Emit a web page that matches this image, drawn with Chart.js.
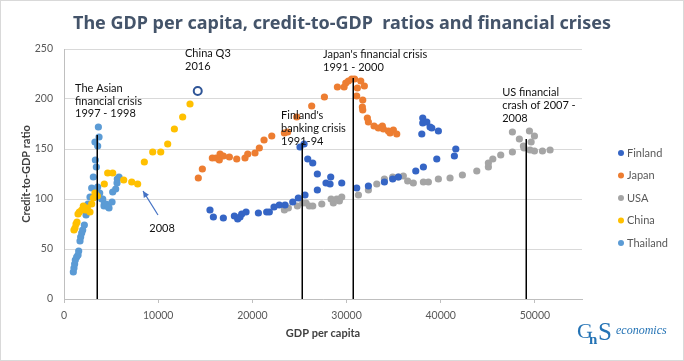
<!DOCTYPE html>
<html><head><meta charset="utf-8">
<script src="https://cdn.jsdelivr.net/npm/chart.js@4"></script>
<style>html,body{margin:0;padding:0;background:#fff}#wrap{width:684px;height:361px}</style>
</head><body><div id="wrap"><canvas id="c" width="684" height="361"></canvas></div>
<script>
// ---- data (GDP per capita, credit-to-GDP ratio) ----
const seriesNames = ["Finland","Japan","USA","China","Thailand"];
const finlandGDP = [15500,15860,16920,18090,18440,18690,18870,19330,20640,21520,21800,22300,22860,23470,24290,24880,25590,25060,25490,25880,26410,26900,26900,27820,28250,28320,29490,31080,32320,34020,34900,35500,37350,38160,39580,41450,41600,37990,38090,38090,38520,38870,39050,39750];
const finlandCredit = [89,82,81,83,80,82,85,87,86,87,87,92,94,94,97,101,104,152,155,140,136,125,109,116,115,122,116,111,113,117,120,122,128,132,140,143,150,165,181,176,177,172,171,168];
const japanGDP = [14260,14690,15750,16140,16490,16570,16920,17560,18340,19220,19510,20280,20740,21240,22060,23400,23750,24710,26300,27650,29030,29740,29920,30200,30550,30850,31150,31510,31890,31080,31720,31680,31720,32210,32320,32920,33380,33800,33910,34440,34620,34970,35330];
const japanCredit = [121,130,141,141,139,145,143,142,140,141,145,146,151,159,163,166,167,182,193,202,212,212,216,218,220,220,211,218,213,203,199,192,189,181,177,173,171,173,170,168,166,169,165];
const usaGDP = [23400,23820,24780,25350,25700,26050,26410,27370,28360,28600,28960,29240,29490,31260,32320,33210,34020,34900,35500,36030,36490,37090,38160,38690,39750,40990,42300,43830,45060,45060,45530,46370,47610,47610,48350,48780,48850,49420,49600,49950,49490,49950,50800,51610];
const usaCredit = [89,91,93,96,96,93,93,95,100,96,100,98,102,104,109,115,120,122,122,123,118,116,117,117,120,121,124,128,132,136,140,144,147,167,160,153,151,168,157,163,149,148,148,149];
const chinaGDP = [1060,1170,1275,1380,1490,1630,1880,2050,2300,2480,2760,2940,3115,3290,3540,4280,4640,5170,6340,7190,7820,8530,9420,10270,11010,11720,12600,13380];
const chinaCredit = [69,71,75,77,85,87,89,93,89,91,87,95,101,106,103,115,126,126,119,117,115,137,147,147,155,170,182,195];
const chinaQ3GDP = [14200];
const chinaQ3Credit = [208];
const thaiGDP = [990,1060,1130,1200,1345,1490,1560,1700,1770,1880,1985,2160,2340,2550,2760,2940,3115,3330,3435,3290,3575,3720,3650,3575,3790,4000,4110,4280,4250,4460,4640,4710,4780,5100,5170,5490,5630,5660,5840];
const thaiCredit = [27,31,35,39,42,44,48,58,62,66,69,74,84,95,102,111,122,139,132,157,153,162,172,112,106,100,100,95,93,95,94,92,91,97,107,110,116,120,122];
// crisis markers: GDP position and line top (credit ratio)
const crisisGDP = [3500,25250,30700,49050];
const crisisTop = [164,156,221,160];
const xTicks = [0,10000,20000,30000,40000,50000];
const yTicks = [0,50,100,150,200,250];

const colors = ["#3565C5","#ED7D31","#A5A5A5","#FFC000","#5B9BD5"];
function pts(xs, ys){ return xs.map((x,i)=>({x:x,y:ys[i]})); }
const seriesData = [pts(finlandGDP,finlandCredit),pts(japanGDP,japanCredit),pts(usaGDP,usaCredit),pts(chinaGDP,chinaCredit),pts(thaiGDP,thaiCredit)];

const datasets = seriesNames.map((n,i)=>({label:n,data:seriesData[i],backgroundColor:colors[i],borderColor:colors[i],pointRadius:3.6,pointBorderWidth:0,showLine:false}));
datasets.push({label:"China Q3 2016",data:pts(chinaQ3GDP,chinaQ3Credit),backgroundColor:"#ffffff",borderColor:"#2F5597",pointRadius:4,pointBorderWidth:2,showLine:false});

// annotation texts (anchored in data units)
const notes = [
  {x:1170,y:[211,198,186],t:["The Asian","financial crisis","1997 - 1998"]},
  {x:12850,y:[246,233],t:["China Q3","2016"]},
  {x:27500,y:[245,232],t:["Japan's financial crisis","1991 - 2000"]},
  {x:23050,y:[184,171,158],t:["Finland's","banking crisis","1991-94"]},
  {x:46520,y:[207,194,181],t:["US financial","crash of 2007 -","2008"]}
];

const fontFam = "Lato, 'Open Sans', sans-serif";

const deco = {
  id:'deco',
  beforeDraw(chart){
    const ctx=chart.ctx;
    ctx.save();
    ctx.fillStyle='#fff';ctx.fillRect(0,0,684,361);
    ctx.strokeStyle='#D9D9D9';ctx.lineWidth=1;ctx.strokeRect(0.5,0.5,683,360);
    ctx.restore();
  },
  afterDatasetsDraw(chart){
    const ctx=chart.ctx, xs=chart.scales.x, ys=chart.scales.y;
    ctx.save();
    // crisis lines
    ctx.strokeStyle='#000';ctx.lineWidth=1.5;
    crisisGDP.forEach((g,i)=>{
      const px=Math.round(xs.getPixelForValue(g))+0.25;
      ctx.beginPath();ctx.moveTo(px,ys.getPixelForValue(0));ctx.lineTo(px,ys.getPixelForValue(crisisTop[i]));ctx.stroke();
    });
    // notes
    ctx.fillStyle='#111';ctx.font="11px "+fontFam;ctx.textBaseline='middle';ctx.textAlign='left';
    notes.forEach(n=>{n.t.forEach((s,k)=>ctx.fillText(s,xs.getPixelForValue(n.x),ys.getPixelForValue(n.y[k])));});
    // 2008 arrow
    ctx.textAlign='center';
    ctx.fillText("2008",xs.getPixelForValue(10410),ys.getPixelForValue(71));
    const x1=xs.getPixelForValue(9980),y1=ys.getPixelForValue(84),x2=xs.getPixelForValue(8390),y2=ys.getPixelForValue(108);
    ctx.strokeStyle='#4472C4';ctx.fillStyle='#4472C4';ctx.lineWidth=1.2;
    ctx.beginPath();ctx.moveTo(x1,y1);ctx.lineTo(x2,y2);ctx.stroke();
    const a=Math.atan2(y2-y1,x2-x1),L=7,W=0.45;
    ctx.beginPath();ctx.moveTo(x2,y2);ctx.lineTo(x2-L*Math.cos(a-W),y2-L*Math.sin(a-W));ctx.lineTo(x2-L*Math.cos(a+W),y2-L*Math.sin(a+W));ctx.closePath();ctx.fill();
    ctx.restore();
  },
  afterDraw(chart){
    const ctx=chart.ctx;
    ctx.save();
    // title
    ctx.fillStyle='#44546A';ctx.font="bold 18px 'Noto Sans', sans-serif";ctx.textAlign='center';ctx.textBaseline='middle';
    ctx.fillText("The GDP per capita, credit-to-GDP  ratios and financial crises",342,24);
    // legend
    ctx.font="11px "+fontFam;ctx.textAlign='left';
    seriesNames.forEach((n,i)=>{
      const y=153+i*22.5;
      ctx.fillStyle=colors[i];ctx.beginPath();ctx.arc(621,y,3,0,Math.PI*2);ctx.fill();
      ctx.fillStyle='#595959';ctx.fillText(n,627,y);
    });
    // logo
    ctx.fillStyle='#2473B5';ctx.textBaseline='alphabetic';
    ctx.font="22px 'Liberation Serif', serif";ctx.fillText("G",577,338);
    ctx.font="bold 15px 'Liberation Serif', serif";ctx.fillText("n",589,344);
    ctx.font="25px 'Liberation Serif', serif";ctx.fillText("S",598,340);
    ctx.font="italic 12px 'Liberation Serif', serif";ctx.fillText("economics",616,334);
    ctx.restore();
  }
};

new Chart(document.getElementById('c'),{
  type:'scatter',
  data:{datasets:datasets},
  plugins:[deco],
  options:{
    responsive:false,animation:false,
    layout:{padding:{top:49,right:102,bottom:0,left:0}},
    plugins:{legend:{display:false},tooltip:{enabled:false},title:{display:false}},
    scales:{
      x:{type:'linear',min:0,max:55000,
        afterBuildTicks(s){s.ticks=xTicks.map(v=>({value:v}));},
        afterFit(s){s.height=62;},
        ticks:{color:'#595959',font:{family:fontFam,size:10.5},padding:6,maxRotation:0,callback:v=>String(v)},
        grid:{drawOnChartArea:false,drawTicks:true,tickLength:4,color:'#BFBFBF'},
        border:{display:true,color:'#BFBFBF'},
        title:{display:true,text:'GDP per capita',color:'#404040',font:{family:fontFam,size:11,weight:'bold'},padding:{top:0,bottom:21}}
      },
      y:{type:'linear',min:0,max:250,
        afterBuildTicks(s){s.ticks=yTicks.map(v=>({value:v}));},
        afterFit(s){s.width=64;},
        ticks:{color:'#595959',font:{family:fontFam,size:10.5},padding:11,callback:v=>String(v)},
        grid:{color:'#D9D9D9',drawTicks:false},
        border:{display:true,color:'#BFBFBF'},
        title:{display:true,text:'Credit-to-GDP ratio',color:'#404040',font:{family:fontFam,size:11,weight:'bold'},padding:{top:20,bottom:0}}
      }
    }
  }
});
</script></body></html>
